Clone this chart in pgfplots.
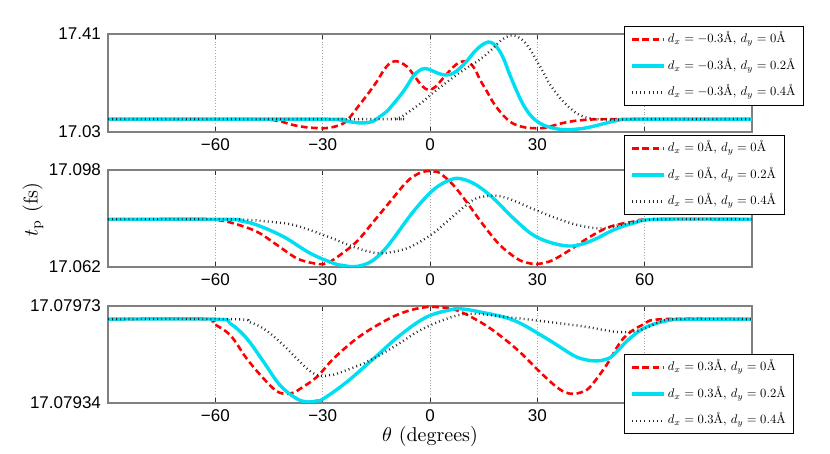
\documentclass[border=0pt]{standalone}
\usepackage{graphicx}
\usepackage{pgfplots}
\pgfplotsset{compat=1.18}
\usepackage{fontspec}
\newfontfamily\tickfont{Liberation Sans}
\definecolor{mcyan}{RGB}{0,222,242}
\definecolor{mred}{RGB}{255,0,0}
\newcommand\lgt[1]{\scalebox{0.63}{#1}\hspace{0.3pt}}
\makeatletter
\def\myfpuget#1Y#2e#3]{#2e#3}
\newcommand\hiprec[2]{% #1 value, #2 offset/scale expression
  \pgfmathfloatparsenumber{#1}%
  \edef\my@tmp{\expandafter\myfpuget\pgfmathresult}%
  \edef\pgfmathresult{\fpeval{(\my@tmp-#2}}%
}
\makeatother
\pgfplotsset{
 panel/.style={
  scale only axis, width=322pt, height=48.5pt,
  xmin=-90, xmax=90, xtick={-60,-30,0,30,60}, xticklabels={−60,−30,0,30,60},
  axis line style={draw=gray, line width=0.6pt},
  tick style={black!80, line width=0.4pt}, major tick length=2.5pt, tick align=inside,
  xmajorgrids, major grid style={densely dotted, gray!70, line width=0.35pt},
  ticklabel style={font=\tickfont\fontsize{8.5}{10}\selectfont},
  legend cell align=left,
  legend style={draw=black, line width=0.5pt, fill=white,
    font=\fontsize{10}{12}\selectfont, inner xsep=3pt, inner ysep=2.3pt, row sep=4.9pt,
    nodes={inner sep=1pt, text height=4.8pt, text depth=1.6pt}, anchor=north west},
  legend image code/.code={\draw[##1] (0pt,0pt) -- (16pt,0pt);},
 },
 rline/.style={mred, line width=1.3pt, dash pattern=on 3.3pt off 1.8pt, smooth, tension=0.6},
 cline/.style={mcyan, line width=1.7pt, smooth, tension=0.6},
 kline/.style={black!85, line width=1.2pt, dash pattern=on 0.45pt off 1.6pt, smooth, tension=0.6},
}
\begin{document}
\begin{tikzpicture}
\useasboundingbox (0,0) rectangle (415pt,227pt);
% ---------------- top panel
\begin{axis}[panel, at={(54pt,161pt)}, anchor=south west, height=49pt,
  ymin=17.03, ymax=17.41, ytick={17.03,17.41}, yticklabels={17.03,17.41},
  legend style={at={(0.8012,1.0816)}}]
\addplot[rline] coordinates {(-90,17.0797) (-55,17.0797) (-50,17.0794) (-45,17.0775) (-41.9,17.0715) (-38.5,17.058) (-35,17.049) (-32,17.0455) (-29.5,17.0447) (-27.5,17.048) (-25.5,17.056) (-23.3,17.0725) (-20.4,17.123) (-17.5,17.175) (-14.8,17.227) (-13,17.268) (-11.5,17.293) (-10,17.304) (-8.5,17.301) (-6.4,17.283) (-4.5,17.25) (-2.8,17.218) (-1.3,17.198) (0,17.194) (1.5,17.205) (3,17.228) (4.7,17.255) (6.5,17.282) (8,17.298) (9.5,17.304) (11,17.298) (12.5,17.275) (14,17.232) (15.8,17.19) (17.5,17.148) (19.5,17.11) (21.5,17.08) (23.3,17.062) (25.5,17.051) (27.9,17.0455) (31.6,17.0455) (34.5,17.055) (37.2,17.065) (41,17.074) (46.5,17.0792) (55,17.0797) (90,17.0797)};
\addlegendentry{\lgt{$d_x=-0.3$\AA, $d_y=0$\AA}}
\addplot[cline] coordinates {(-90,17.0797) (-30,17.0797) (-25,17.076) (-21.5,17.068) (-18.6,17.065) (-15.9,17.0715) (-14,17.09) (-12.5,17.105) (-11.2,17.123) (-7.4,17.188) (-4.7,17.246) (-3,17.268) (-1.5,17.276) (0.2,17.27) (2,17.259) (4,17.251) (5.5,17.252) (7,17.262) (8.4,17.278) (10.3,17.305) (12.1,17.336) (14.3,17.365) (16.3,17.379) (17.9,17.37) (19.5,17.343) (21,17.3) (22.3,17.252) (25.1,17.162) (27,17.115) (28.8,17.084) (30.7,17.064) (32.6,17.052) (35.5,17.042) (38.1,17.039) (41,17.041) (43.7,17.046) (46.5,17.055) (49.3,17.065) (52.5,17.075) (57,17.0797) (90,17.0797)};
\addlegendentry{\lgt{$d_x=-0.3$\AA, $d_y=0.2$\AA}}
\addplot[kline] coordinates {(-90,17.0797) (-14,17.0797) (-10,17.081) (-8.4,17.086) (-5.6,17.111) (-2,17.148) (0,17.172) (2.3,17.198) (4.7,17.223) (7,17.247) (10.2,17.278) (13,17.302) (15,17.322) (17.7,17.356) (20,17.387) (22.3,17.404) (24,17.402) (26,17.385) (28,17.35) (29.8,17.307) (31.8,17.258) (33.5,17.215) (36,17.168) (38.1,17.136) (40.5,17.107) (42.8,17.09) (45,17.082) (47.4,17.079) (52,17.078) (60,17.0797) (90,17.0797)};
\addlegendentry{\lgt{$d_x=-0.3$\AA, $d_y=0.4$\AA}}
\end{axis}
% ---------------- middle panel
\begin{axis}[panel, at={(54pt,93.5pt)}, anchor=south west,
  y coord trafo/.code={\hiprec{#1}{17.08)*1000}},
  ymin=17.062, ymax=17.098, ytick={17.062,17.098}, yticklabels={17.062,17.098},
  ylabel={$t_{\mathrm{p}}$ (fs)},
  ylabel style={at={(axis description cs:-0.1165,0.59)}, anchor=center, font=\fontsize{10}{12}\selectfont},
  legend style={at={(0.8012,1.361)}}]
\addplot[rline] coordinates {(-90,17.0797) (-62,17.0797) (-59.5,17.0795) (-54.9,17.0782) (-48.4,17.0751) (-42.8,17.0702) (-37.2,17.0652) (-32.6,17.0634) (-29.8,17.0631) (-27.5,17.0643) (-25.1,17.0665) (-20.5,17.0714) (-15.8,17.0788) (-11.2,17.0862) (-6.5,17.0936) (-3.5,17.0965) (-0.9,17.0976) (1,17.0974) (2.8,17.0968) (6.5,17.0924) (10.2,17.0862) (14.9,17.0776) (19.5,17.0702) (24.2,17.0652) (27,17.0636) (29.8,17.0631) (32,17.0636) (34.4,17.0646) (39.1,17.0683) (44.7,17.0732) (50.2,17.0769) (56.7,17.0788) (62.3,17.0797) (90,17.0797)};
\addlegendentry{\lgt{$d_x=0$\AA, $d_y=0$\AA}}
\addplot[cline] coordinates {(-90,17.0797) (-57,17.0797) (-53,17.0791) (-48.4,17.0776) (-40.9,17.0732) (-33.5,17.0671) (-27,17.0634) (-24,17.0625) (-21.4,17.0621) (-18.5,17.0628) (-15.8,17.0646) (-13,17.068) (-10.2,17.0726) (-4.7,17.0825) (0.9,17.0906) (5.6,17.0943) (8.8,17.0947) (13,17.0924) (17.7,17.0875) (23.3,17.0801) (28.8,17.0739) (34.4,17.0708) (40,17.0698) (45.6,17.072) (51.2,17.0757) (56.7,17.0782) (63.3,17.0797) (90,17.0797)};
\addlegendentry{\lgt{$d_x=0$\AA, $d_y=0.2$\AA}}
\addplot[kline] coordinates {(-90,17.0797) (-57,17.0797) (-50,17.0794) (-44,17.0787) (-38.1,17.0776) (-29.8,17.0739) (-21.4,17.0695) (-17,17.0677) (-14,17.0671) (-10.5,17.0676) (-6.5,17.0689) (-3,17.0712) (0.9,17.0745) (4,17.078) (7.4,17.0819) (10,17.0848) (13,17.0875) (17.7,17.0885) (21,17.0878) (24.2,17.0862) (30.7,17.0825) (38.1,17.0788) (43.7,17.0769) (48.4,17.0764) (53.9,17.0778) (60.5,17.0794) (66,17.0797) (90,17.0797)};
\addlegendentry{\lgt{$d_x=0$\AA, $d_y=0.4$\AA}}
\end{axis}
% ---------------- bottom panel
\begin{axis}[panel, at={(54pt,25.5pt)}, anchor=south west,
  y coord trafo/.code={\hiprec{#1}{17.0797)*100000}},
  ymin=17.07934, ymax=17.07973, ytick={17.07934,17.07973}, yticklabels={17.07934,17.07973},
  xlabel={$\theta$ (degrees)},
  xlabel style={at={(axis description cs:0.5,-0.35)}, anchor=center, font=\fontsize{10}{12}\selectfont},
  legend style={at={(0.8012,0.505)}}]
\addplot[rline] coordinates {(-90,17.079677) (-63,17.079677) (-60.5,17.079659) (-55.8,17.079612) (-51.2,17.079518) (-46.5,17.079438) (-42.8,17.079387) (-40,17.079377) (-38,17.079383) (-36.3,17.079397) (-31.6,17.079445) (-27,17.079518) (-20.5,17.079599) (-14,17.079659) (-8.4,17.079699) (-2.8,17.079722) (1.9,17.079726) (7.4,17.079713) (14,17.079666) (19.5,17.079612) (25.1,17.079545) (30.7,17.079465) (35.4,17.079404) (38,17.079382) (40,17.079377) (42.3,17.079383) (44.7,17.079404) (49.3,17.079492) (54,17.079599) (59.5,17.079655) (65.1,17.079677) (90,17.079677)};
\addlegendentry{\lgt{$d_x=0.3$\AA, $d_y=0$\AA}}
\addplot[cline] coordinates {(-90,17.079677) (-60,17.079677) (-55.8,17.079659) (-51.2,17.079599) (-46.5,17.079505) (-41.9,17.079411) (-37.2,17.079357) (-34,17.079344) (-31.5,17.079349) (-29.8,17.079357) (-23.3,17.079424) (-15.8,17.079518) (-8.4,17.079612) (-0.9,17.079686) (6.5,17.079717) (9,17.079718) (14,17.079706) (23.3,17.079673) (32.6,17.079599) (40,17.079532) (43.5,17.079514) (46.5,17.079509) (49,17.079515) (51.2,17.079532) (55.8,17.079599) (60.5,17.079646) (67,17.079673) (72,17.079677) (90,17.079677)};
\addlegendentry{\lgt{$d_x=0.3$\AA, $d_y=0.2$\AA}}
\addplot[kline] coordinates {(-90,17.079677) (-55,17.079677) (-50.5,17.079665) (-46.5,17.079639) (-41.9,17.079585) (-37.2,17.079518) (-33.5,17.079468) (-30.7,17.079449) (-28,17.079452) (-26,17.079458) (-17.7,17.079505) (-10.2,17.079565) (-2.8,17.079632) (4.7,17.079679) (11.2,17.079699) (21.4,17.079686) (30.7,17.07967) (41.9,17.07965) (48,17.079635) (53,17.079625) (58.6,17.079632) (64.2,17.079666) (68.8,17.079677) (90,17.079677)};
\addlegendentry{\lgt{$d_x=0.3$\AA, $d_y=0.4$\AA}}
\end{axis}
\end{tikzpicture}
\end{document}
